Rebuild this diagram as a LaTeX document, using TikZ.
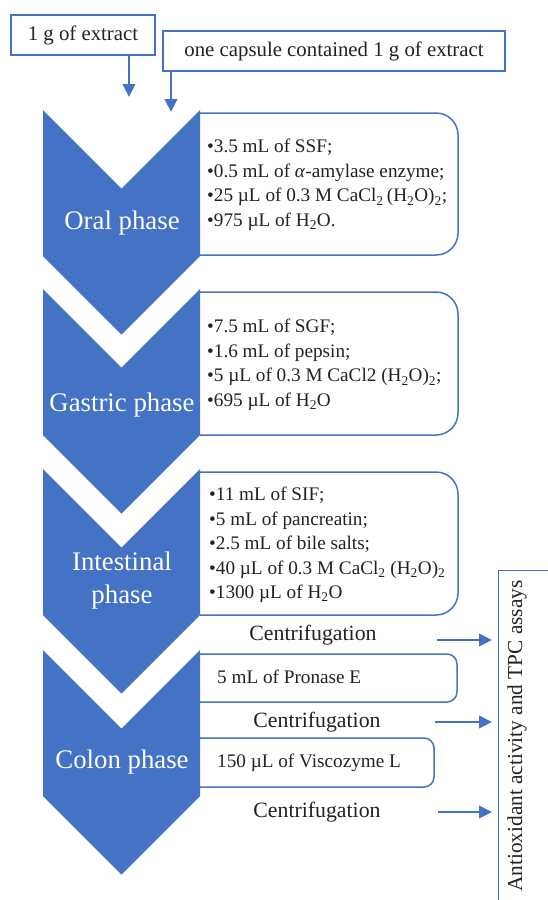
\documentclass[tikz,border=0pt]{standalone}
\usepackage{fontspec}
\setmainfont{Liberation Serif}
\usetikzlibrary{arrows.meta}
\definecolor{cblue}{HTML}{4472C4}
\definecolor{ctext}{HTML}{222222}
\tikzset{
  chev/.style={fill=cblue, draw=none},
  rbox/.style={draw=cblue, line width=1.5pt, rounded corners=22pt},
  sbox/.style={draw=cblue, line width=1.5pt, rounded corners=10pt},
  topbox/.style={draw=cblue, line width=1.1pt, text=ctext, inner sep=0pt, font=\fontsize{20.8}{24}\selectfont},
  lst/.style={anchor=west, align=left, inner sep=0pt, text=ctext, font=\fontsize{19.2}{24.5}\selectfont},
  cfg/.style={inner sep=0pt, text=ctext, font=\fontsize{21.8}{24}\selectfont},
  lab/.style={text=white, align=center, inner sep=0pt, font=\fontsize{26.8}{33}\selectfont},
  arr/.style={draw=cblue, line width=2.2pt, -{Triangle[length=13pt,width=12.5pt]}}
}
\newcommand{\ch}[1]{(43,#1) -- (121.5,#1+78.5) -- (200,#1) -- (200,#1+146) -- (121.5,#1+224.5) -- (43,#1+146) -- cycle}
\begin{document}
\begin{tikzpicture}[x=1pt,y=-1pt]
\useasboundingbox (0,0) rectangle (548,900);
% top boxes
\node[topbox, minimum width=144pt, minimum height=40pt] (ext1) at (83,35) {1 g of extract};
\node[topbox, minimum width=342pt, minimum height=40pt] (ext2) at (334,51) {one capsule contained 1 g of extract};
\coordinate (a1) at (129,97);
\coordinate (a2) at (171,112);
\draw[arr] (ext1.south -| a1) -- (a1);
\draw[arr] (ext2.south -| a2) -- (a2);
% right box
\node[draw=cblue, line width=1.1pt, minimum width=70pt, minimum height=340pt, anchor=north west, inner sep=0pt] (assay) at (498,570) {};
\node[text=ctext, rotate=90, inner sep=0pt, font=\fontsize{21.3}{24}\selectfont] (assaytxt) at (517,736) {Antioxidant activity and TPC assays};
% text boxes
\draw[rbox] (200,113) -- (458,113) -- (458,255) -- (200,255);
\draw[rbox] (200,292) -- (458,292) -- (458,435) -- (200,435);
\draw[rbox] (200,472) -- (458,472) -- (458,615) -- (200,615);
\draw[sbox] (200,654) -- (457,654) -- (457,702) -- (200,702);
\draw[sbox] (200,738) -- (434,738) -- (434,787) -- (200,787);
% chevrons
\fill[chev] \ch{110};
\fill[chev] \ch{289};
\fill[chev] \ch{469};
\fill[chev] \ch{650};
% labels
\node[lab] (oral) at (122,223) {Oral phase};
\node[lab] (gastric) at (122,405) {Gastric phase};
\node[lab] (intest) at (122,581) {Intestinal\\phase};
\node[lab] (colon) at (122,762) {Colon phase};
% lists
\node[lst] (l1) at (207,185) {•3.5 mL of SSF;\\•0.5 mL of \textit{α}-amylase enzyme;\\•25 µL of 0.3 M CaCl\textsubscript{2}\,(H\textsubscript{2}O)\textsubscript{2};\\•975 µL of H\textsubscript{2}O.};
\node[lst] (l2) at (207,365) {•7.5 mL of SGF;\\•1.6 mL of pepsin;\\•5 µL of 0.3 M CaCl2 (H\textsubscript{2}O)\textsubscript{2};\\•695 µL of H\textsubscript{2}O};
\node[lst] (l3) at (209,545) {•11 mL of SIF;\\•5 mL of pancreatin;\\•2.5 mL of bile salts;\\•40 µL of 0.3 M CaCl\textsubscript{2} (H\textsubscript{2}O)\textsubscript{2}\\•1300 µL of H\textsubscript{2}O};
\node[lst] (l4) at (217,677) {5 mL of Pronase E};
\node[lst] (l5) at (217,763) {150 µL of Viscozyme L};
% centrifugation
\node[cfg] (c1) at (313,635) {Centrifugation};
\node[cfg] (c2) at (317,722) {Centrifugation};
\node[cfg] (c3) at (317,812) {Centrifugation};
\coordinate (s1) at (437,640);
\coordinate (s2) at (435,722);
\coordinate (s3) at (438,812);
\draw[arr, shorten >=6pt] (s1) -- (s1 -| assay.west);
\draw[arr, shorten >=6pt] (s2) -- (s2 -| assay.west);
\draw[arr, shorten >=6pt] (s3) -- (s3 -| assay.west);
\end{tikzpicture}
\end{document}
